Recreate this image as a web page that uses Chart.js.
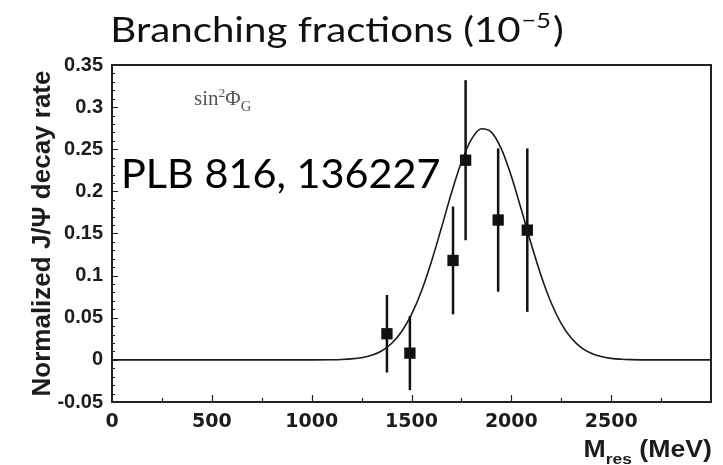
<!DOCTYPE html>
<html>
<head>
<meta charset="utf-8">
<script src="https://cdn.jsdelivr.net/npm/chart.js@4/dist/chart.umd.min.js"></script>
<style>
  html, body { margin: 0; padding: 0; background: #fff; }
  #wrap { width: 723px; height: 465px; position: relative; }
</style>
</head>
<body>
<div id="wrap"><canvas id="rateChart"></canvas></div>
<script>
// measured points (MeV, normalized rate, symmetric error)
const massPts = [1377, 1492, 1708, 1771, 1934, 2080];
const ratePts = [0.031, 0.008, 0.118, 0.237, 0.166, 0.154];
const rateErr = [0.046, 0.044, 0.064, 0.095, 0.085, 0.097];

// fitted curve, sampled along the mass axis
const fitMass = [0, 1000, 1100, 1150, 1200, 1250, 1300, 1350, 1400, 1450, 1500,
  1550, 1600, 1650, 1700, 1750, 1800, 1850, 1900, 1950, 2000, 2050, 2100, 2150,
  2200, 2250, 2300, 2350, 2400, 2450, 2500, 2550, 2600, 2700, 3000];
const fitRate = [0, 0, 0.0002, 0.0005, 0.0012, 0.0026, 0.0054, 0.0106, 0.0194,
  0.0333, 0.0539, 0.0818, 0.1168, 0.1568, 0.198, 0.2348, 0.2618, 0.2744, 0.2704,
  0.2504, 0.218, 0.1784, 0.1372, 0.0992, 0.0675, 0.0431, 0.0259, 0.0146, 0.0078,
  0.0039, 0.0018, 0.0008, 0.0003, 0, 0];

const xTickLabels = ["0", "500", "1000", "1500", "2000", "2500"];
const yTickLabels = ["-0.05", "0", "0.05", "0.1", "0.15", "0.2", "0.25", "0.3", "0.35"];

const inkColor = "#1c1c1c";

// text drawn slightly wider than the font's natural width
function wideText(ctx, text, x, y, font, stretch) {
  ctx.font = font;
  const w = ctx.measureText(text).width * stretch;
  ctx.save();
  ctx.translate(x, y);
  ctx.scale(stretch, 1);
  ctx.fillText(text, 0, 0);
  ctx.restore();
  return w;
}

function textWidth(ctx, text, font, stretch) {
  ctx.font = font;
  return ctx.measureText(text).width * stretch;
}

// vertical error bars under the square markers
const errorBars = {
  id: "errorBars",
  beforeDatasetsDraw(chart) {
    const { ctx, scales } = chart;
    ctx.save();
    ctx.strokeStyle = "#111";
    ctx.lineWidth = 2.5;
    massPts.forEach((m, i) => {
      const x = scales.x.getPixelForValue(m);
      const yTop = scales.y.getPixelForValue(ratePts[i] + rateErr[i]);
      const yBot = scales.y.getPixelForValue(ratePts[i] - rateErr[i]);
      ctx.beginPath();
      ctx.moveTo(x, yTop);
      ctx.lineTo(x, yBot);
      ctx.stroke();
    });
    ctx.restore();
  },
};

// box frame plus inward tick marks
const frameTicks = {
  id: "frameTicks",
  afterDatasetsDraw(chart) {
    const { ctx, chartArea: a, scales } = chart;
    ctx.save();
    ctx.strokeStyle = "#222";
    ctx.lineWidth = 1.2;
    ctx.beginPath();
    for (let k = -5; k <= 35; k++) {
      const y = Math.round(scales.y.getPixelForValue(k / 100)) + 0.5;
      const len = k % 5 === 0 ? 6 : 3;
      ctx.moveTo(a.left, y);
      ctx.lineTo(a.left + len, y);
    }
    for (let m = 250; m < 3000; m += 250) {
      const x = Math.round(scales.x.getPixelForValue(m)) + 0.5;
      const len = m % 500 === 0 ? 7 : 4;
      ctx.moveTo(x, a.bottom);
      ctx.lineTo(x, a.bottom - len);
    }
    ctx.stroke();
    ctx.lineWidth = 2;
    ctx.strokeRect(a.left, a.top, a.right - a.left, a.bottom - a.top);
    ctx.restore();
  },
};

// heading, reference tag, mixing-angle label and mass axis title
const annotations = {
  id: "annotations",
  afterDraw(chart) {
    const { ctx, chartArea: a } = chart;
    ctx.save();
    ctx.textBaseline = "alphabetic";

    // heading with superscript exponent
    ctx.fillStyle = "#111";
    const big = "35px Lato";
    const sup = "22px Lato";
    const st = 1.15;
    const wA = textWidth(ctx, "Branching fractions (10", big, st);
    const wB = textWidth(ctx, "\u22125", sup, st);
    const wC = textWidth(ctx, ")", big, st);
    let x0 = 337 - (wA + wB + wC + 3) / 2;
    wideText(ctx, "Branching fractions (10", x0, 42, big, st);
    wideText(ctx, "\u22125", x0 + wA + 1, 28, sup, st);
    wideText(ctx, ")", x0 + wA + wB + 3, 42, big, st);

    // reference tag
    ctx.fillStyle = "#000";
    wideText(ctx, "PLB 816, 136227", 121, 188, "40px Lato", 1.035);

    // sin^2 Phi_G
    ctx.fillStyle = "#555";
    let sx = 194;
    sx += wideText(ctx, "sin", sx, 105, "20px 'Liberation Serif'", 1.05);
    sx += wideText(ctx, "2", sx, 97, "13px 'Liberation Serif'", 1.05);
    sx += wideText(ctx, "\u03A6", sx, 105, "20px 'Liberation Serif'", 1.05);
    wideText(ctx, "G", sx, 111, "14px 'Liberation Serif'", 1.05);

    // mass axis title, right aligned to the frame
    ctx.fillStyle = inkColor;
    const tFont = "bold 23px 'Liberation Sans'";
    const sFont = "bold 15px 'Liberation Sans'";
    const ts = 1.16;
    const wM = textWidth(ctx, "M", tFont, ts);
    const wSub = textWidth(ctx, "res", sFont, ts);
    const wRest = textWidth(ctx, " (MeV)", tFont, ts);
    let tx = a.right + 1 - (wM + wSub + wRest);
    wideText(ctx, "M", tx, 457, tFont, ts);
    wideText(ctx, "res", tx + wM, 464, sFont, ts);
    wideText(ctx, " (MeV)", tx + wM + wSub, 457, tFont, ts);
    ctx.restore();
  },
};

const ctx = document.getElementById("rateChart").getContext("2d");

let rateChart = new Chart(ctx, {
  type: "line",
  data: {
    datasets: [
      {
        label: "fit",
        data: fitMass.map((m, i) => ({ x: m, y: fitRate[i] })),
        borderColor: "#1a1a1a",
        borderWidth: 1.6,
        pointRadius: 0,
        cubicInterpolationMode: "monotone",
        fill: false,
      },
      {
        label: "data",
        data: massPts.map((m, i) => ({ x: m, y: ratePts[i] })),
        showLine: false,
        pointStyle: "rect",
        pointRadius: 8,
        pointBackgroundColor: "#111",
        pointBorderWidth: 0,
      },
    ],
  },
  options: {
    responsive: true,
    maintainAspectRatio: false,
    animation: false,
    layout: {
      padding: { top: 65, right: 12, left: 0, bottom: 0 },
    },
    scales: {
      x: {
        type: "linear",
        min: 0,
        max: 3000,
        grid: { display: false, drawTicks: false },
        border: { display: false },
        ticks: {
          stepSize: 500,
          padding: 9,
          maxRotation: 0,
          color: inkColor,
          font: { family: "'DejaVu Sans'", weight: "bold", size: 19 },
          callback: (value) => xTickLabels[value / 500] || "",
        },
        afterFit: (scale) => {
          scale.height = 63;
        },
      },
      y: {
        min: -0.05,
        max: 0.35,
        grid: { display: false, drawTicks: false },
        border: { display: false },
        ticks: {
          stepSize: 0.05,
          padding: 9,
          color: inkColor,
          font: { family: "'Liberation Sans'", weight: "bold", size: 20 },
          callback: (value) => yTickLabels[Math.round((value + 0.05) / 0.05)],
        },
        title: {
          display: true,
          text: "Normalized J/\u03A8 decay rate",
          color: inkColor,
          padding: { top: 27, bottom: 0 },
          font: { family: "'Liberation Sans'", weight: "bold", size: 26 },
        },
        afterFit: (scale) => {
          scale.width = 112;
        },
      },
    },
    plugins: {
      legend: { display: false },
      tooltip: { enabled: false },
    },
  },
  plugins: [errorBars, frameTicks, annotations],
});
</script>
</body>
</html>
